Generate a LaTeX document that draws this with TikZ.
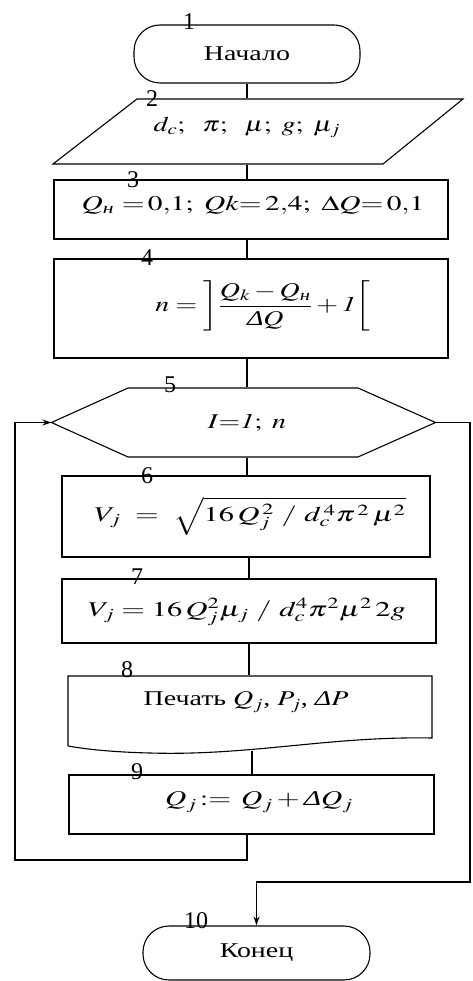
\documentclass[tikz,border=0pt]{standalone}
\usepackage{amsmath}
\usepackage{mathptmx}
\usepackage{fontspec}
\setmainfont{Liberation Serif}
\usetikzlibrary{arrows.meta,calc}
\newcommand{\iD}{\text{\itshape Δ}}
\newcommand{\cyn}{\text{\itshape н}}
\newcommand{\sx}[2][1.33]{\scalebox{#1}[1]{#2}}
\begin{document}
\begin{tikzpicture}[x=1pt,y=-1pt,line width=1.1pt,
  font=\fontsize{21}{24}\selectfont,
  box/.style={draw,rectangle,inner sep=0pt},
  term/.style={draw,rectangle,rounded corners=26pt,inner sep=0pt},
  blank/.style={inner sep=0pt},
  txt/.style={inner sep=0pt},
  lab/.style={inner sep=0pt,font=\fontsize{24}{26}\selectfont},
  arr/.style={-{Stealth[length=9pt,width=6pt]}}]
\useasboundingbox[fill=white] (0,0) rectangle (472,981);

% 1
\node[term,minimum width=226pt,minimum height=58pt] (t1) at (247,54) {};
\node[txt] (x1) at (t1) {\sx{Начало}};
\node[lab] (l1) at (189,22) {1};
% 2
\node[blank,minimum width=300pt,minimum height=65pt] (p2) at (247,131.5) {};
\node[txt] (x2) at (247,127) {\sx{$d_c;\ \ \pi;\ \ \mu;\ g;\ \mu_j$}};
\draw (137,99) -- (463,99) -- (383,164) -- (53,164) -- cycle;
\node[lab] (l2) at (152,99) {2};
% 3
\node[box,minimum width=394pt,minimum height=59pt] (b3) at (251,209.5) {};
\node[txt] (x3) at (253,205) {\sx[1.4]{$Q_{\cyn}\ {=}\,0{,}1;\ Qk{=}\,2{,}4;\ \Delta Q{=}\,0{,}1$}};
\node[lab] (l3) at (133,180) {3};
% 4
\node[box,minimum width=394pt,minimum height=99pt] (b4) at (251,308.5) {};
\node[txt] (x4) at (263,306) {\sx{$n=\left]\dfrac{Q_k-Q_{\cyn}}{\iD Q}+\mathit{1}\right[$}};
\node[lab] (l4) at (147,258) {4};
% 5
\node[blank,minimum width=383pt,minimum height=69pt] (h5) at (243.5,422.5) {};
\node[txt] (x5) at (247,423) {\sx{$I{=}\mathit{1};\ n$}};
\draw (h5.west) -- (128,388) -- (358,388) -- (h5.east) -- (358,457) -- (128,457) -- cycle;
\node[lab] (l5) at (170,385) {5};
% 6
\node[box,minimum width=368pt,minimum height=81pt] (b6) at (246,516.5) {};
\node[txt] (x6) at (250,516) {\sx[1.45]{$V_j\ =\ \sqrt{16\,Q_j^{\,2}\ /\ d_c^{\,4}\pi^{\,2}\,\mu^{2}}$}};
\node[lab] (l6) at (147,476) {6};
% 7
\node[box,minimum width=374pt,minimum height=64pt] (b7) at (249,611) {};
\node[txt] (x7) at (247,612) {\sx[1.45]{$V_j=16\,Q_j^2\mu_j\ /\ d_c^4\pi^2\mu^2\,2g$}};
\node[lab] (l7) at (137,577) {7};
% 8
\node[blank,minimum width=364pt,minimum height=52pt] (d8) at (250,702) {};
\node[txt] (x8) at (246,702) {\sx{Печать $Q_j$, $P_j$, $\iD P$}};
\draw (68,746) -- (68,676) -- (432,676) -- (432,738)
  .. controls (330,736) and (250,756) .. (150,753)
  .. controls (110,752) and (85,749) .. (68,746);
\coordinate (d8b) at (252,751);
\node[lab] (l8) at (127,670) {8};
% 9
\node[box,minimum width=365pt,minimum height=59pt] (b9) at (251.5,804.5) {};
\node[txt] (x9) at (259,802) {\sx[1.4]{$Q_j\!:=\,Q_j+\iD Q_j$}};
\node[lab] (l9) at (137,772) {9};
% 10
\node[term,minimum width=227pt,minimum height=54pt] (t10) at (256.5,953) {};
\node[txt] (x10) at (t10) {\sx{Конец}};
\node[lab] (l10) at (196,921) {10};

% connectors
\coordinate (sp) at (247,0);
\draw (t1.south) -- (t1.south |- p2.north);
\draw (p2.south) -- (p2.south |- b3.north);
\draw (b3.south -| sp) -- (b4.north -| sp);
\draw (b4.south -| sp) -- (h5.north -| sp);
\draw (h5.south -| sp) -- (b6.north -| sp);
\draw (b6.south -| b7) -- (b7.north);
\draw (b7.south) -- (b7.south |- d8.north);
\draw (d8b) -- (d8b |- b9.north);
\coordinate (lb) at (15,860);
\draw[arr] (b9.south -| sp) |- (lb) |- (h5.west);
\coordinate (rt) at (470,882);
\draw[arr] (h5.east) -| (rt) -| (t10.north);
\end{tikzpicture}
\end{document}
